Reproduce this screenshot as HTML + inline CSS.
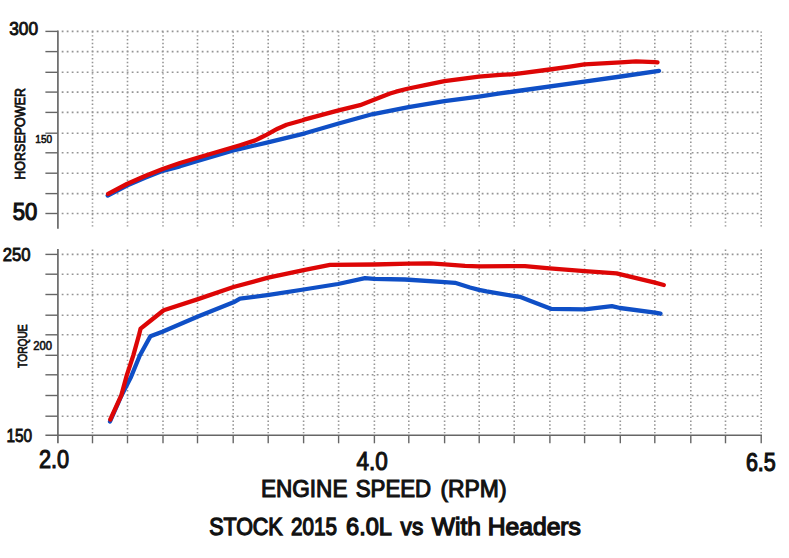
<!DOCTYPE html>
<html><head><meta charset="utf-8"><title>Dyno chart</title>
<style>
html,body{margin:0;padding:0;background:#fff;}
body{width:789px;height:558px;overflow:hidden;}
svg{display:block;}
text{font-family:"Liberation Sans",Arial,sans-serif;fill:#111;}
.gh{stroke:#959595;stroke-width:1.6;stroke-dasharray:1.8 3.2;}
.gv{stroke:#959595;stroke-width:1.6;stroke-dasharray:1.4 2.4;}
.ax{stroke:#707070;stroke-width:1.8;}
.tk{stroke:#666;stroke-width:1.4;}
.cv{fill:none;stroke-width:4.3;stroke-linejoin:round;stroke-linecap:round;}
</style></head>
<body>
<svg width="789" height="558" viewBox="0 0 789 558">
<rect width="789" height="558" fill="#fff"/>
<line x1="61.7" y1="51.6" x2="761.5" y2="51.6" class="gh"/>
<line x1="61.7" y1="72.3" x2="761.5" y2="72.3" class="gh"/>
<line x1="61.7" y1="92.1" x2="761.5" y2="92.1" class="gh"/>
<line x1="61.7" y1="112.4" x2="761.5" y2="112.4" class="gh"/>
<line x1="61.7" y1="133.2" x2="761.5" y2="133.2" class="gh"/>
<line x1="61.7" y1="152.8" x2="761.5" y2="152.8" class="gh"/>
<line x1="61.7" y1="173.2" x2="761.5" y2="173.2" class="gh"/>
<line x1="61.7" y1="193.6" x2="761.5" y2="193.6" class="gh"/>
<line x1="61.7" y1="213.5" x2="761.5" y2="213.5" class="gh"/>
<line x1="61.7" y1="31.4" x2="761.5" y2="31.4" class="gh"/>
<line x1="61.7" y1="254.4" x2="761.5" y2="254.4" class="gh"/>
<line x1="61.7" y1="274.2" x2="761.5" y2="274.2" class="gh"/>
<line x1="61.7" y1="294.5" x2="761.5" y2="294.5" class="gh"/>
<line x1="61.7" y1="315.2" x2="761.5" y2="315.2" class="gh"/>
<line x1="61.7" y1="334.8" x2="761.5" y2="334.8" class="gh"/>
<line x1="61.7" y1="355.3" x2="761.5" y2="355.3" class="gh"/>
<line x1="61.7" y1="374.8" x2="761.5" y2="374.8" class="gh"/>
<line x1="61.7" y1="395.5" x2="761.5" y2="395.5" class="gh"/>
<line x1="61.7" y1="416.2" x2="761.5" y2="416.2" class="gh"/>
<line x1="92.5" y1="31.4" x2="92.5" y2="227.5" class="gv"/>
<line x1="92.5" y1="249.5" x2="92.5" y2="435" class="gv"/>
<line x1="127.5" y1="31.4" x2="127.5" y2="227.5" class="gv"/>
<line x1="127.5" y1="249.5" x2="127.5" y2="435" class="gv"/>
<line x1="163" y1="31.4" x2="163" y2="227.5" class="gv"/>
<line x1="163" y1="249.5" x2="163" y2="435" class="gv"/>
<line x1="197.5" y1="31.4" x2="197.5" y2="227.5" class="gv"/>
<line x1="197.5" y1="249.5" x2="197.5" y2="435" class="gv"/>
<line x1="233.2" y1="31.4" x2="233.2" y2="227.5" class="gv"/>
<line x1="233.2" y1="249.5" x2="233.2" y2="435" class="gv"/>
<line x1="268.2" y1="31.4" x2="268.2" y2="227.5" class="gv"/>
<line x1="268.2" y1="249.5" x2="268.2" y2="435" class="gv"/>
<line x1="303.6" y1="31.4" x2="303.6" y2="227.5" class="gv"/>
<line x1="303.6" y1="249.5" x2="303.6" y2="435" class="gv"/>
<line x1="338.6" y1="31.4" x2="338.6" y2="227.5" class="gv"/>
<line x1="338.6" y1="249.5" x2="338.6" y2="435" class="gv"/>
<line x1="374.4" y1="31.4" x2="374.4" y2="227.5" class="gv"/>
<line x1="374.4" y1="249.5" x2="374.4" y2="435" class="gv"/>
<line x1="408.8" y1="31.4" x2="408.8" y2="227.5" class="gv"/>
<line x1="408.8" y1="249.5" x2="408.8" y2="435" class="gv"/>
<line x1="444.6" y1="31.4" x2="444.6" y2="227.5" class="gv"/>
<line x1="444.6" y1="249.5" x2="444.6" y2="435" class="gv"/>
<line x1="479.2" y1="31.4" x2="479.2" y2="227.5" class="gv"/>
<line x1="479.2" y1="249.5" x2="479.2" y2="435" class="gv"/>
<line x1="514.2" y1="31.4" x2="514.2" y2="227.5" class="gv"/>
<line x1="514.2" y1="249.5" x2="514.2" y2="435" class="gv"/>
<line x1="549.9" y1="31.4" x2="549.9" y2="227.5" class="gv"/>
<line x1="549.9" y1="249.5" x2="549.9" y2="435" class="gv"/>
<line x1="584.6" y1="31.4" x2="584.6" y2="227.5" class="gv"/>
<line x1="584.6" y1="249.5" x2="584.6" y2="435" class="gv"/>
<line x1="620.3" y1="31.4" x2="620.3" y2="227.5" class="gv"/>
<line x1="620.3" y1="249.5" x2="620.3" y2="435" class="gv"/>
<line x1="654.8" y1="31.4" x2="654.8" y2="227.5" class="gv"/>
<line x1="654.8" y1="249.5" x2="654.8" y2="435" class="gv"/>
<line x1="690.8" y1="31.4" x2="690.8" y2="227.5" class="gv"/>
<line x1="690.8" y1="249.5" x2="690.8" y2="435" class="gv"/>
<line x1="725.5" y1="31.4" x2="725.5" y2="227.5" class="gv"/>
<line x1="725.5" y1="249.5" x2="725.5" y2="435" class="gv"/>
<line x1="761.2" y1="31.4" x2="761.2" y2="227.5" class="gv"/>
<line x1="761.2" y1="249.5" x2="761.2" y2="435" class="gv"/>
<line x1="57.9" y1="30.5" x2="57.9" y2="228.8" class="ax"/>
<line x1="57.9" y1="249" x2="57.9" y2="443.3" class="ax"/>
<line x1="45.4" y1="31.4" x2="57.9" y2="31.4" class="tk"/>
<line x1="45.4" y1="51.6" x2="57.9" y2="51.6" class="tk"/>
<line x1="45.4" y1="72.3" x2="57.9" y2="72.3" class="tk"/>
<line x1="45.4" y1="92.1" x2="57.9" y2="92.1" class="tk"/>
<line x1="45.4" y1="112.4" x2="57.9" y2="112.4" class="tk"/>
<line x1="45.4" y1="133.2" x2="57.9" y2="133.2" class="tk"/>
<line x1="45.4" y1="152.8" x2="57.9" y2="152.8" class="tk"/>
<line x1="45.4" y1="173.2" x2="57.9" y2="173.2" class="tk"/>
<line x1="45.4" y1="193.6" x2="57.9" y2="193.6" class="tk"/>
<line x1="45.4" y1="213.5" x2="57.9" y2="213.5" class="tk"/>
<line x1="45.4" y1="254.4" x2="57.9" y2="254.4" class="tk"/>
<line x1="45.4" y1="274.2" x2="57.9" y2="274.2" class="tk"/>
<line x1="45.4" y1="294.5" x2="57.9" y2="294.5" class="tk"/>
<line x1="45.4" y1="315.2" x2="57.9" y2="315.2" class="tk"/>
<line x1="45.4" y1="334.8" x2="57.9" y2="334.8" class="tk"/>
<line x1="45.4" y1="355.3" x2="57.9" y2="355.3" class="tk"/>
<line x1="45.4" y1="374.8" x2="57.9" y2="374.8" class="tk"/>
<line x1="45.4" y1="395.5" x2="57.9" y2="395.5" class="tk"/>
<line x1="45.4" y1="416.2" x2="57.9" y2="416.2" class="tk"/>
<line x1="45.4" y1="435.3" x2="762" y2="435.3" class="tk"/>
<line x1="92.5" y1="435.3" x2="92.5" y2="443.3" class="tk"/>
<line x1="127.5" y1="435.3" x2="127.5" y2="443.3" class="tk"/>
<line x1="163" y1="435.3" x2="163" y2="443.3" class="tk"/>
<line x1="197.5" y1="435.3" x2="197.5" y2="443.3" class="tk"/>
<line x1="233.2" y1="435.3" x2="233.2" y2="443.3" class="tk"/>
<line x1="268.2" y1="435.3" x2="268.2" y2="443.3" class="tk"/>
<line x1="303.6" y1="435.3" x2="303.6" y2="443.3" class="tk"/>
<line x1="338.6" y1="435.3" x2="338.6" y2="443.3" class="tk"/>
<line x1="374.4" y1="435.3" x2="374.4" y2="443.3" class="tk"/>
<line x1="408.8" y1="435.3" x2="408.8" y2="443.3" class="tk"/>
<line x1="444.6" y1="435.3" x2="444.6" y2="443.3" class="tk"/>
<line x1="479.2" y1="435.3" x2="479.2" y2="443.3" class="tk"/>
<line x1="514.2" y1="435.3" x2="514.2" y2="443.3" class="tk"/>
<line x1="549.9" y1="435.3" x2="549.9" y2="443.3" class="tk"/>
<line x1="584.6" y1="435.3" x2="584.6" y2="443.3" class="tk"/>
<line x1="620.3" y1="435.3" x2="620.3" y2="443.3" class="tk"/>
<line x1="654.8" y1="435.3" x2="654.8" y2="443.3" class="tk"/>
<line x1="690.8" y1="435.3" x2="690.8" y2="443.3" class="tk"/>
<line x1="725.5" y1="435.3" x2="725.5" y2="443.3" class="tk"/>
<line x1="761.2" y1="435.3" x2="761.2" y2="443.3" class="tk"/>
<polyline class="cv" stroke="#0f4fc6" points="107.7,195.6 126.9,185.5 145,177.8 162.7,170.8 180,166.3 197.5,161 233.2,150.5 240,148.9 266.9,142.6 305,133.3 338.6,123.5 372,114.3 408.5,107.1 444.4,101.1 478.9,96.6 500,93.4 513.9,91.5 584.3,81.7 620.7,76.5 659,70.9"/>
<polyline class="cv" stroke="#dd0606" points="108.1,193.9 126.9,184 145,176 162.7,169 180,163 197.5,157.8 233.2,147.2 240,145.2 255.2,140.4 261,137.5 266.9,134.6 277.6,128.7 286.6,124.7 302.7,120.2 305,119.3 338.6,110.4 360,105.2 374,99.8 390,93.5 396,91.7 408.5,88.5 425,85.2 444.4,81.2 478.9,76.7 500,74.9 513.9,74.2 522,73.2 549.7,69.5 570,66.6 584.3,64.4 620.7,62.3 636,61.3 654.8,62.2 657.5,62.4"/>
<polyline class="cv" stroke="#0f4fc6" points="110,421.5 121.5,395.5 131,377 139.8,355.5 150.4,336.3 162.4,331.7 197.3,316.8 233.5,302.3 240,298.7 269,294.9 303.6,289.5 338,284 365,278.2 374,278.9 405,279.5 444.8,282.1 455,282.8 470,287.5 479,289.8 486.5,291.4 513.9,296 519.8,296.8 530,300.7 551.5,308.9 584.8,309.4 611.9,306.2 620,308 655,312.6 660.5,313.7"/>
<polyline class="cv" stroke="#dd0606" points="110.3,419.5 121.3,395.4 126.9,374.8 133.4,355.1 139,335 140.6,328.6 150.8,320.5 163.7,310.2 197.3,299.4 233.5,287 268.2,277.6 303.6,270.2 330,264.9 374,264.5 409,263.6 430,263.3 444.8,264.3 465,265.9 479,266.3 513.9,266.2 525,266.2 549.7,268.4 584.8,271.1 616.5,273.4 655,282.7 663.8,285"/>
<text id="t300" font-size="17.90" textLength="28.80" lengthAdjust="spacingAndGlyphs" stroke="#111" stroke-width="0.9" x="9.20" y="34.80">300</text>
<text id="t50" font-size="24.49" textLength="24.50" lengthAdjust="spacingAndGlyphs" stroke="#111" stroke-width="1.2" x="12.80" y="219.60">50</text>
<text id="t150a" font-size="11.74" textLength="16.80" lengthAdjust="spacingAndGlyphs" stroke="#111" stroke-width="0.6" x="35.30" y="143.00">150</text>
<text id="t250" font-size="18.00" textLength="27.80" lengthAdjust="spacingAndGlyphs" stroke="#111" stroke-width="0.9" x="2.80" y="261.20">250</text>
<text id="t200" font-size="11.89" textLength="18.80" lengthAdjust="spacingAndGlyphs" stroke="#111" stroke-width="0.6" x="33.20" y="350.40">200</text>
<text id="t150b" font-size="18.38" textLength="25.70" lengthAdjust="spacingAndGlyphs" stroke="#111" stroke-width="0.9" x="6.40" y="442.40">150</text>
<text id="t2_0" font-size="25.40" textLength="30.20" lengthAdjust="spacingAndGlyphs" stroke="#111" stroke-width="1.1" x="38.90" y="467.80">2.0</text>
<text id="t4_0" font-size="25.40" textLength="31.30" lengthAdjust="spacingAndGlyphs" stroke="#111" stroke-width="1.1" x="356.50" y="470.10">4.0</text>
<text id="t6_5" font-size="25.40" textLength="29.90" lengthAdjust="spacingAndGlyphs" stroke="#111" stroke-width="1.2" x="745.90" y="471.30">6.5</text>
<text id="hp" font-size="14.60" textLength="91.60" lengthAdjust="spacingAndGlyphs" stroke="#111" stroke-width="0.8" transform="translate(24.80 179.70) rotate(-90)" x="0" y="0">HORSEPOWER</text>
<text id="tq" font-size="12.30" textLength="43.60" lengthAdjust="spacingAndGlyphs" stroke="#111" stroke-width="0.7" transform="translate(27.40 367.90) rotate(-90)" x="0" y="0">TORQUE</text>
<text id="engine" font-size="24.00" textLength="86.54" lengthAdjust="spacingAndGlyphs" stroke="#111" stroke-width="1.1" x="260.93" y="496.50">ENGINE</text>
<text id="speed" font-size="24.00" textLength="75.53" lengthAdjust="spacingAndGlyphs" stroke="#111" stroke-width="1.1" x="355.68" y="496.50">SPEED</text>
<text id="rpm" font-size="24.00" textLength="66.06" lengthAdjust="spacingAndGlyphs" stroke="#111" stroke-width="1.1" x="440.46" y="496.50">(RPM)</text>
<text id="stock" font-size="24.40" textLength="73.54" lengthAdjust="spacingAndGlyphs" stroke="#111" stroke-width="1.3" x="209.13" y="535.30">STOCK</text>
<text id="y2015" font-size="24.40" textLength="45.86" lengthAdjust="spacingAndGlyphs" stroke="#111" stroke-width="1.3" x="291.08" y="535.30">2015</text>
<text id="v60l" font-size="24.40" textLength="45.83" lengthAdjust="spacingAndGlyphs" stroke="#111" stroke-width="1.3" x="346.11" y="535.30">6.0L</text>
<text id="vs" font-size="24.40" textLength="22.61" lengthAdjust="spacingAndGlyphs" stroke="#111" stroke-width="1.3" x="400.59" y="535.30">vs</text>
<text id="with" font-size="24.40" textLength="49.12" lengthAdjust="spacingAndGlyphs" stroke="#111" stroke-width="1.3" x="431.80" y="535.30">With</text>
<text id="headers" font-size="24.40" textLength="93.17" lengthAdjust="spacingAndGlyphs" stroke="#111" stroke-width="1.3" x="487.73" y="535.30">Headers</text>
</svg>
</body></html>
